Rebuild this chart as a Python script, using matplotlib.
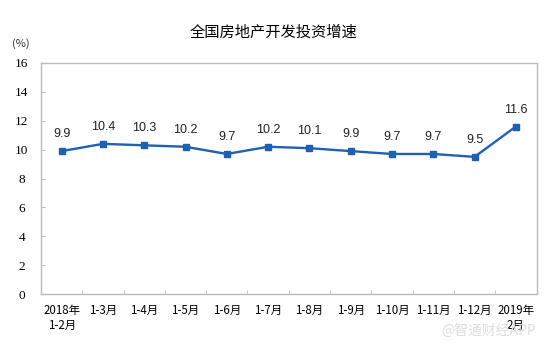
import matplotlib.pyplot as plt
import numpy as np

plt.rcParams['font.family'] = ['Noto Sans CJK SC', 'DejaVu Sans']

months = ['2018年\n1-2月', '1-3月', '1-4月', '1-5月', '1-6月', '1-7月', '1-8月',
          '1-9月', '1-10月', '1-11月', '1-12月', '2019年\n2月']
growth = [9.9, 10.4, 10.3, 10.2, 9.7, 10.2, 10.1, 9.9, 9.7, 9.7, 9.5, 11.6]
yticks = [0, 2, 4, 6, 8, 10, 12, 14, 16]

fig = plt.figure(figsize=(5.58, 3.46), dpi=100)
ax = fig.add_axes([0.0735, 0.150, 0.888, 0.668])

x = np.arange(len(months))
color = '#1f5fb4'
ax.plot(x, growth, color=color, linewidth=1.7, marker='s', markersize=4.5)

for xi, v in zip(x, growth):
    ax.text(xi, v + 0.75, f'{v}', ha='center', va='bottom', fontsize=9,
            family=['Liberation Sans', 'DejaVu Sans'], color='#222222')

ax.set_xlim(-0.5, len(months) - 0.5)
ax.set_ylim(0, 16)
ax.set_yticks(yticks)
ax.set_yticklabels([str(t) for t in yticks], family=['Liberation Serif'], fontsize=9.5)
ax.set_xticks(x)
ax.set_xticklabels(months, fontsize=8.3, linespacing=1.2)
ax.set_xticks(np.arange(-0.5, len(months), 1), minor=True)
ax.tick_params(axis='x', which='major', length=0, pad=7)
ax.tick_params(axis='x', which='minor', length=3, direction='in', color='#bbbbbb')
ax.tick_params(axis='y', length=3, direction='in', color='#bbbbbb', pad=14)
for lab in ax.get_yticklabels():
    lab.set_horizontalalignment('center')

for s in ax.spines.values():
    s.set_color('#bbbbbb')
    s.set_linewidth(1)

fig.text(0.491, 0.907, '全国房地产开发投资增速', ha='center', va='center', fontsize=11)
fig.text(0.038, 0.875, '(%)', ha='center', va='center', fontsize=8, color='#333333')
fig.text(0.79, 0.045, '@智通财经APP', ha='left', va='center', fontsize=10,
         color='#dddddd')

fig.savefig('out.png', dpi=100)
